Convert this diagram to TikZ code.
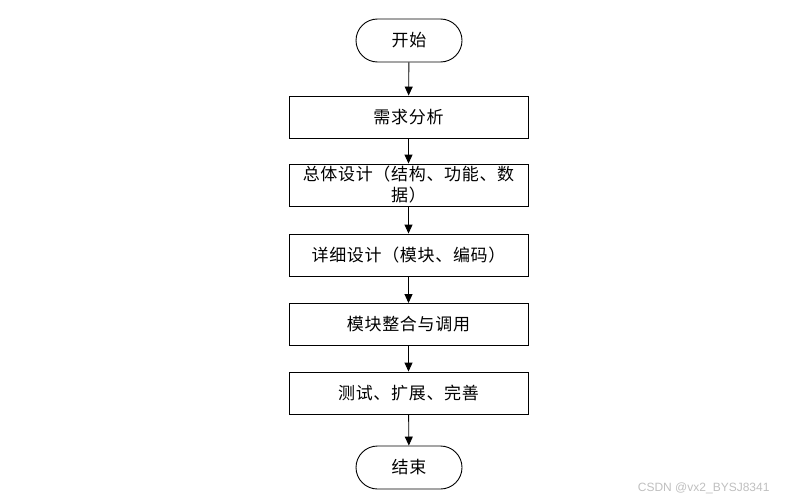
\documentclass[tikz,border=0pt]{standalone}
\usepackage{fontspec}
\setmainfont[LetterSpace=4]{Noto Sans CJK SC}
\newfontfamily\wmfont{Liberation Sans}
\usetikzlibrary{arrows.meta}
\begin{document}
\begin{tikzpicture}[x=1pt,y=-1pt,
  proc/.style={draw=black,line width=0.9pt,minimum width=239pt,minimum height=42pt,inner sep=0pt,align=center,font=\fontsize{17}{21}\selectfont},
  term/.style={draw=black,line width=0.9pt,minimum width=106pt,minimum height=43pt,rounded corners=21.5pt,inner sep=0pt,font=\fontsize{17}{21}\selectfont},
  flow/.style={line width=0.9pt,-{Triangle[length=9pt,width=8pt]}}]
\useasboundingbox (0,0) rectangle (786,503);
\node[term] (s) at (409,40.5) {开始};
\node[proc] (a) at (408.5,117) {需求分析};
\node[proc] (b) at (408.5,185) {总体设计（结构、功能、数\\据）};
\node[proc] (c) at (408.5,255) {详细设计（模块、编码）};
\node[proc] (d) at (408.5,324.5) {模块整合与调用};
\node[proc] (e) at (408.5,393) {测试、扩展、完善};
\node[term] (t) at (409,467.5) {结束};
\draw[flow] (s) -- (a);
\draw[flow] (a) -- (b);
\draw[flow] (b) -- (c);
\draw[flow] (c) -- (d);
\draw[flow] (d) -- (e);
\draw[flow] (e) -- (t);
\node[text=black!25,font=\wmfont\fontsize{12}{14}\selectfont,anchor=east] (wm) at (773,488) {CSDN @vx2\_BYSJ8341};
\end{tikzpicture}
\end{document}
